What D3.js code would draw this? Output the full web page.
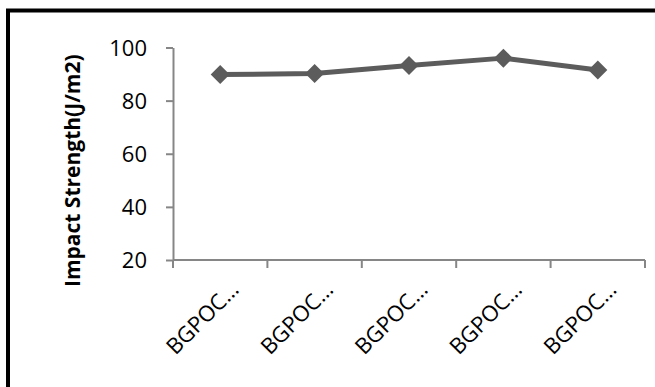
<!DOCTYPE html>
<html>
<head>
<meta charset="utf-8">
<script src="https://cdn.jsdelivr.net/npm/d3@7"></script>
<style>
  html, body { margin: 0; padding: 0; background: #fff; }
  svg { display: block; }
  text { font-family: "Open Sans", "Noto Sans", sans-serif; }
</style>
</head>
<body>
<svg id="chart" width="655" height="387"></svg>
<script>
// Impact strength of the BGPOC samples
const categories = ["BGPOC…", "BGPOC…", "BGPOC…", "BGPOC…", "BGPOC…"];
const impactStrength = [89.8, 90.2, 93.2, 96.0, 91.5];
const yTicks = [20, 40, 60, 80, 100];
const yTitle = "Impact Strength(J/m2)";

const svg = d3.select("#chart");
const W = 655, H = 387;

// outer chart frame (runs past the right and bottom edges)
svg.append("rect")
  .attr("x", 8).attr("y", 10.5)
  .attr("width", W + 20).attr("height", H + 20)
  .attr("fill", "#fff")
  .attr("stroke", "#000")
  .attr("stroke-width", 4);

const plot = { left: 173, right: 645, top: 47.5, bottom: 260 };

const ids = categories.map((_, i) => i);
const x = d3.scaleBand().domain(ids).range([plot.left, plot.right]);
const y = d3.scaleLinear().domain([20, 100]).range([plot.bottom, plot.top]);
const axisColor = "#868686";

// y axis
const yAxis = svg.append("g")
  .attr("transform", `translate(${plot.left},0)`)
  .call(d3.axisLeft(y).tickValues(yTicks).tickSizeOuter(0).tickSizeInner(7).tickPadding(19));
yAxis.select(".domain").attr("stroke", axisColor).attr("stroke-width", 2);
yAxis.selectAll(".tick line").attr("stroke", axisColor).attr("stroke-width", 2);
yAxis.selectAll(".tick text")
  .attr("font-size", 22).attr("fill", "#000")
  .attr("font-family", "'Open Sans', sans-serif")
  .attr("dy", "0.36em");

// x axis: ticks on category boundaries
const xAxisG = svg.append("g");
xAxisG.append("line")
  .attr("x1", plot.left).attr("x2", plot.right)
  .attr("y1", plot.bottom).attr("y2", plot.bottom)
  .attr("stroke", axisColor).attr("stroke-width", 2);
const boundaries = ids.map(i => x(i)).concat([x(ids[ids.length - 1]) + x.bandwidth()]);
xAxisG.selectAll("line.tk").data(boundaries).join("line")
  .attr("class", "tk")
  .attr("x1", d => d).attr("x2", d => d)
  .attr("y1", plot.bottom).attr("y2", plot.bottom + 8)
  .attr("stroke", axisColor).attr("stroke-width", 2);

// rotated category labels
svg.selectAll("text.cat").data(ids).join("text")
  .attr("class", "cat")
  .attr("text-anchor", "end")
  .attr("font-size", 22)
  .attr("fill", "#000")
  .attr("transform", i => `translate(${x(i) + x.bandwidth() / 2 + 20},${plot.bottom + 31}) rotate(-45)`)
  .text(i => categories[i]);

// y axis title
svg.append("text")
  .attr("transform", `translate(80,${(plot.top + plot.bottom) / 2 + 17}) rotate(-90)`)
  .attr("text-anchor", "middle")
  .attr("font-size", 21)
  .attr("font-weight", "bold")
  .attr("fill", "#000")
  .text(yTitle);

// series line
const cx = i => x(i) + x.bandwidth() / 2;
const lineColor = "#5c5c5c";
svg.append("path")
  .datum(ids)
  .attr("fill", "none")
  .attr("stroke", lineColor)
  .attr("stroke-width", 5)
  .attr("stroke-linejoin", "round")
  .attr("d", d3.line().x(cx).y(i => y(impactStrength[i])));

// diamond markers
svg.selectAll("path.mk").data(ids).join("path")
  .attr("class", "mk")
  .attr("fill", lineColor)
  .attr("transform", i => `translate(${cx(i)},${y(impactStrength[i])})`)
  .attr("d", "M0,-9.5L9.5,0L0,9.5L-9.5,0Z");
</script>
</body>
</html>
